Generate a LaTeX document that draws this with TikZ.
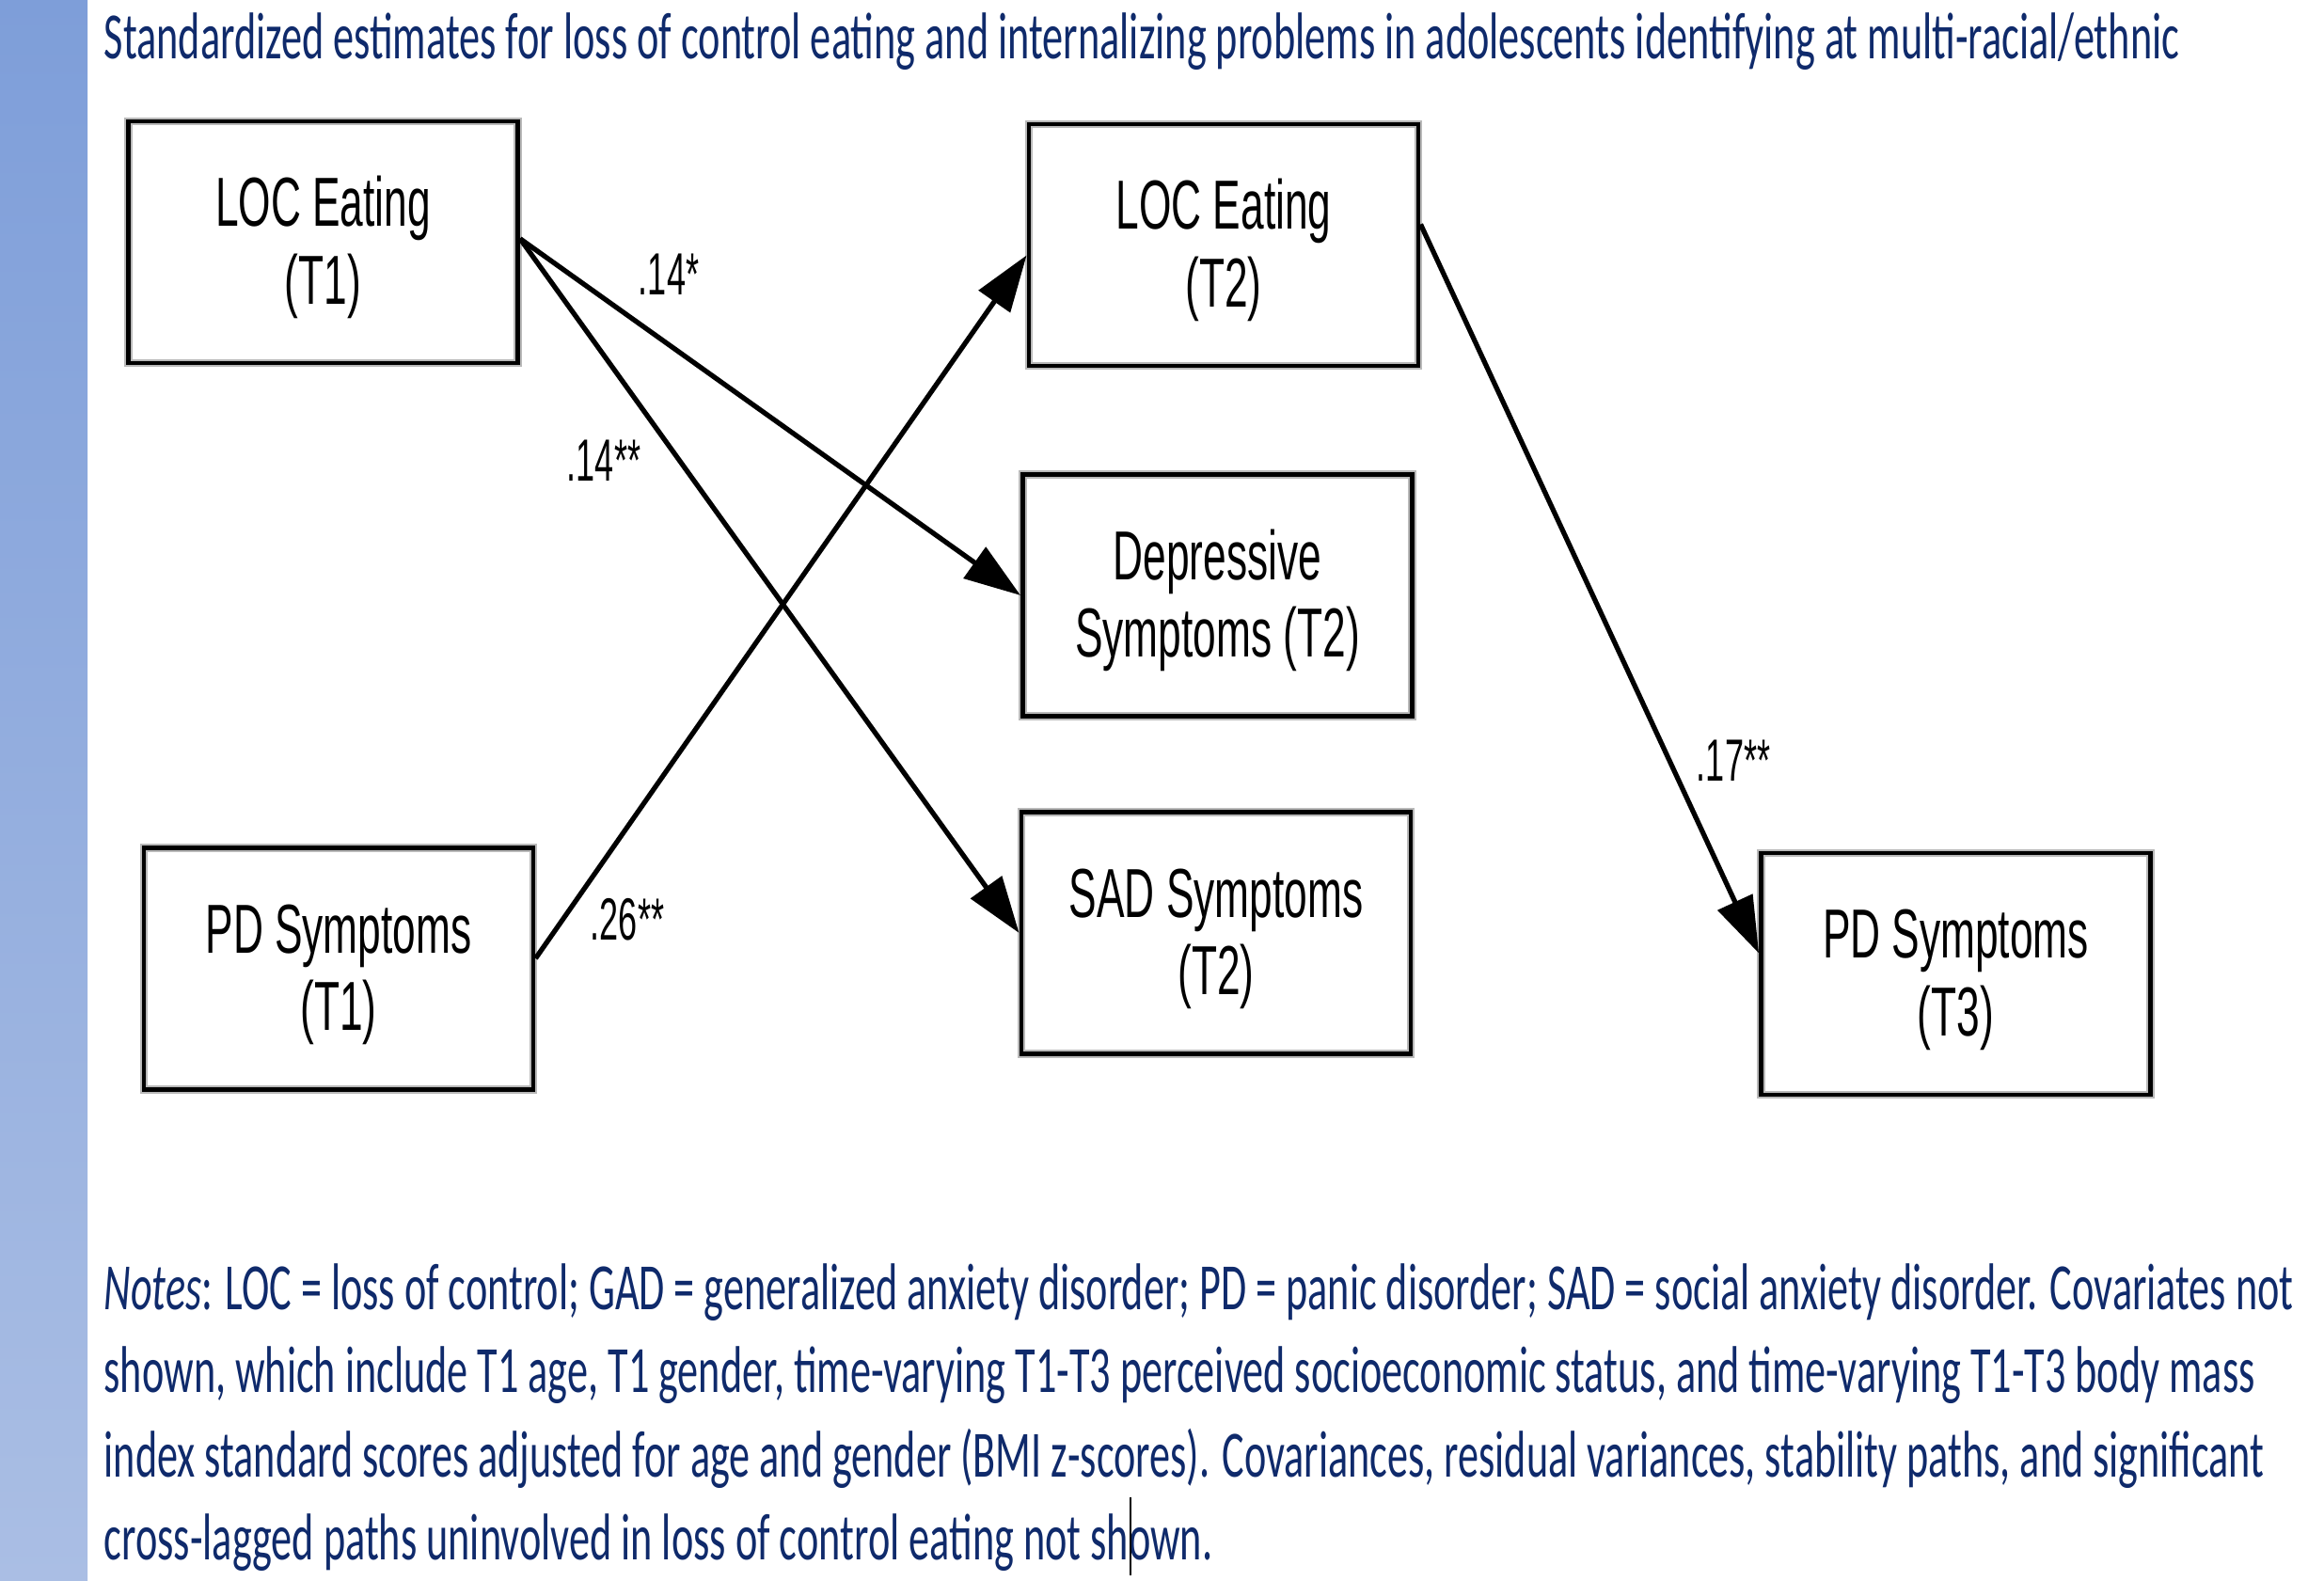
\documentclass[tikz,border=0pt]{standalone}
\usepackage{graphicx}
\usepackage{fontspec}
\setmainfont{Carlito}
\newfontfamily\arialfont{Liberation Sans}
\usetikzlibrary{arrows.meta,shapes}
\definecolor{notesblue}{HTML}{0F2A6B}
\definecolor{bartop}{HTML}{7E9ED9}
\definecolor{barbottom}{HTML}{AABEE4}
\newcommand{\boxlines}[1]{\raisebox{-0.08cm}[\height][\depth]{\scalebox{0.6}[1]{\begin{tabular}{@{}c@{}}#1\end{tabular}}}}
\newcommand{\est}[1]{\scalebox{0.57}[1]{#1}}
\newcommand{\noteline}[2]{\resizebox{#1}{\height}{#2}}

\begin{document}
\begin{tikzpicture}[
		varbox/.style={draw=black, line width=1.4pt, preaction={draw=gray!55, line width=2.4pt}, minimum width=4.14cm, minimum height=2.57cm, inner sep=0pt, font=\arialfont\fontsize{21}{23.5}\selectfont},
		estarrow/.style={line width=1.5pt, -{Triangle[length=0.6cm,width=0.4cm]}},
		estlbl/.style={inner sep=0pt, font=\arialfont\fontsize{18}{20}\selectfont},
		notetext/.style={anchor=base west, inner sep=0pt, text=notesblue, font=\fontsize{20}{24}\selectfont}]
		
		% \draw[gray, very thin] (0,0) grid +(24.71,16.81);
		\useasboundingbox (0,0) rectangle (24.71,16.81);
		
		\shade[top color=bartop, bottom color=barbottom] (0,0) rectangle (0.93,16.81);
		
		\node[notetext] (title) at (1.10,16.18) {\noteline{22.07cm}{Standardized estimates for loss of control eating and internalizing problems in adolescents identifying at multi-racial/ethnic}};
		
		% variables
		\node[varbox] (loc1) at (3.435,14.235) {\boxlines{LOC Eating\\(T1)}};
		\node[varbox] (pd1) at (3.60,6.51) {\boxlines{PD Symptoms\\(T1)}};
		\node[varbox] (loc2) at (13.01,14.205) {\boxlines{LOC Eating\\(T2)}};
		\node[varbox] (dep2) at (12.945,10.48) {\boxlines{Depressive\\Symptoms (T2)}};
		\node[varbox] (sad2) at (12.93,6.89) {\boxlines{SAD Symptoms\\(T2)}};
		\node[varbox] (pd3) at (20.795,6.455) {\boxlines{PD Symptoms\\(T3)}};
		
		% paths
		\draw[estarrow] (loc1.1) -- (dep2.west);
		\draw[estarrow] (loc1.1) -- (sad2.west);
		\draw[estarrow] (pd1.3) -- (loc2.183);
		\draw[estarrow] (loc2.6) -- (pd3.174);
		
		\node[estlbl] (e1) at (7.11,13.89) {\est{.14*}};
		\node[estlbl] (e2) at (6.42,11.91) {\est{.14**}};
		\node[estlbl] (e3) at (6.67,7.03) {\est{.26**}};
		\node[estlbl] (e4) at (18.43,8.72) {\est{.17**}};
		
		% notes
		\node[notetext] (n1) at (1.10,2.88) {\noteline{23.28cm}{\textit{Notes}: LOC = loss of control; GAD = generalized anxiety disorder; PD = panic disorder; SAD = social anxiety disorder. Covariates not}};
		\node[notetext] (n2) at (1.10,2.00) {\noteline{22.87cm}{shown, which include T1 age, T1 gender, time-varying T1-T3 perceived socioeconomic status, and time-varying T1-T3 body mass}};
		\node[notetext] (n3) at (1.10,1.10) {\noteline{22.97cm}{index standard scores adjusted for age and gender (BMI z-scores). Covariances, residual variances, stability paths, and significant}};
		\node[notetext] (n4) at (1.10,0.22) {\noteline{11.79cm}{cross-lagged paths uninvolved in loss of control eating not shown.}};
		\draw[line width=0.6pt] (12.02,0.89) -- (12.02,0.06);
		
\end{tikzpicture}
\end{document}
